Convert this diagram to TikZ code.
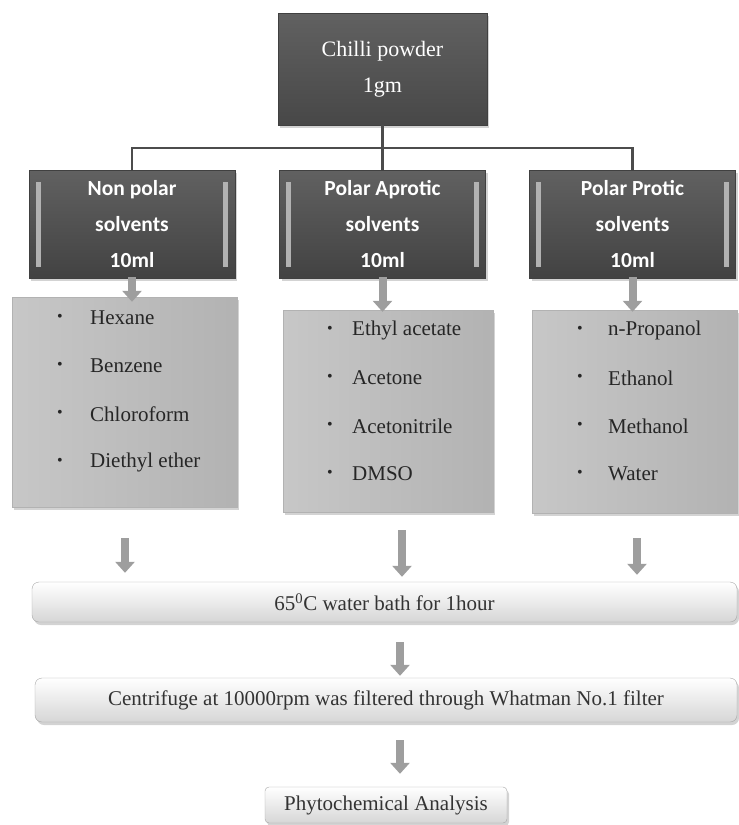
\documentclass[tikz,border=0pt]{standalone}
\usepackage{fontspec}
\setmainfont{Liberation Serif}
\newfontfamily\hdfont{Carlito}
\usetikzlibrary{arrows.meta,shadows,calc}
\begin{document}
\begin{tikzpicture}[x=1pt,y=-1pt,
  shad/.style={drop shadow={opacity=0.35,shadow xshift=2pt,shadow yshift=-3pt}},
  topbox/.style={shad,draw=black!75,top color=black!62,bottom color=black!72,text=white,
    minimum width=209pt,minimum height=112pt,inner sep=0pt,
    font=\fontsize{22}{36}\selectfont,align=center},
  hdbox/.style={shad,draw=black!75,top color=black!62,bottom color=black!74,text=white,
    minimum width=206pt,minimum height=108pt,inner sep=0pt,
    font=\hdfont\bfseries\fontsize{21.5}{36}\selectfont,align=center},
  listbox/.style={shad,draw=black!30,left color=black!22,middle color=black!5,right color=black!30,
    inner sep=0pt},
  item/.style={anchor=west,inner sep=0pt,text=black!85,font=\fontsize{21}{22}\selectfont},
  bul/.style={anchor=center,inner sep=0pt,text=black!85,font=\fontsize{16}{20}\selectfont},
  barbox/.style={shad,draw=black!35,top color=white,bottom color=black!16,rounded corners=7pt,
    inner sep=0pt,text=black!80,font=\fontsize{21}{22}\selectfont},
  conn/.style={draw=black!70,line width=2.5pt},
  barrow/.style={draw=black!38,line width=8pt,-{Triangle[width=19pt,length=11pt]}},
  lightbar/.style={fill=black!30}
]
\useasboundingbox (0,0) rectangle (739,825);

% top box
\node[topbox] (top) at (382.5,69) {Chilli powder\\1gm};

% headers
\node[hdbox] (h1) at (132,224) {Non polar\\solvents\\10ml};
\node[hdbox] (h2) at (382.5,224) {Polar Aprotic\\solvents\\10ml};
\node[hdbox] (h3) at (632.5,224) {Polar Protic\\solvents\\10ml};
\foreach \h in {h1,h2,h3}{
  \fill[lightbar] ($(\h.north west)+(7,12)$) rectangle ($(\h.south west)+(12,-11)$);
  \fill[lightbar] ($(\h.north east)+(-12,12)$) rectangle ($(\h.south east)+(-7,-11)$);
}

% tree connectors
\coordinate (hub) at (382.5,148);
\draw[conn] (top.south) -- (hub);
\draw[conn] (hub) -| (h1.north);
\draw[conn] (hub) -- (h2.north);
\draw[conn] (hub) -| (h3.north);

% list boxes
\node[listbox,minimum width=225pt,minimum height=210pt] (l1) at (124.5,402) {};
\node[listbox,minimum width=210pt,minimum height=202pt] (l2) at (388,411) {};
\node[listbox,minimum width=205pt,minimum height=203pt] (l3) at (634.5,411.5) {};

% list items
\foreach \t [count=\i] in {Hexane,Benzene,Chloroform,Diethyl ether}{
  \pgfmathsetmacro{\yy}{318+(\i-1)*48}
  \node[bul] (b1\i) at (60,\yy) {•};
  \node[item] (t1\i) at (90,\yy) {\t};
}
\foreach \t [count=\i] in {Ethyl acetate,Acetone,Acetonitrile,DMSO}{
  \pgfmathsetmacro{\yy}{330+(\i-1)*48}
  \node[bul] (b2\i) at (330,\yy) {•};
  \node[item] (t2\i) at (352,\yy) {\t};
}
\foreach \t [count=\i] in {n-Propanol,Ethanol,Methanol,Water}{
  \pgfmathsetmacro{\yy}{330+(\i-1)*48}
  \node[bul] (b3\i) at (580,\yy) {•};
  \node[item] (t3\i) at (608,\yy) {\t};
}

% small arrows header -> list
\draw[barrow,shorten <=-1pt,shorten >=-5pt] (h1.south) -- (l1.north -| h1.south);
\draw[barrow,shorten <=-1pt,shorten >=-2pt] (h2.south) -- (l2.north -| h2.south);
\draw[barrow,shorten <=-1pt,shorten >=-2pt] (h3.south) -- (l3.north -| h3.south);

% bars
\node[barbox,minimum width=705pt,minimum height=40pt] (bar1) at (384.5,602) {65\textsuperscript{0}C water bath for 1hour};
\node[barbox,minimum width=702pt,minimum height=44pt] (bar2) at (386,700) {Centrifuge at 10000rpm was filtered through Whatman No.1 filter};
\node[barbox,minimum width=242pt,minimum height=36pt,rounded corners=4pt] (fin) at (386,805) {Phytochemical Analysis};

% arrows list -> bar1
\coordinate (x1) at (125,538);
\coordinate (x2) at (402,530);
\coordinate (x3) at (637,538);
\draw[barrow,shorten >=9pt] (x1) -- (bar1.north -| x1);
\draw[barrow,shorten >=5pt] (x2) -- (bar1.north -| x2);
\draw[barrow,shorten >=7pt] (x3) -- (bar1.north -| x3);

% arrows bar1 -> bar2 -> final
\coordinate (xc) at (400,0);
\draw[barrow,shorten <=20pt,shorten >=2pt] (bar1.south -| xc) -- (bar2.north -| xc);
\draw[barrow,shorten <=18pt,shorten >=13pt] (bar2.south -| xc) -- (fin.north -| xc);
\end{tikzpicture}
\end{document}
